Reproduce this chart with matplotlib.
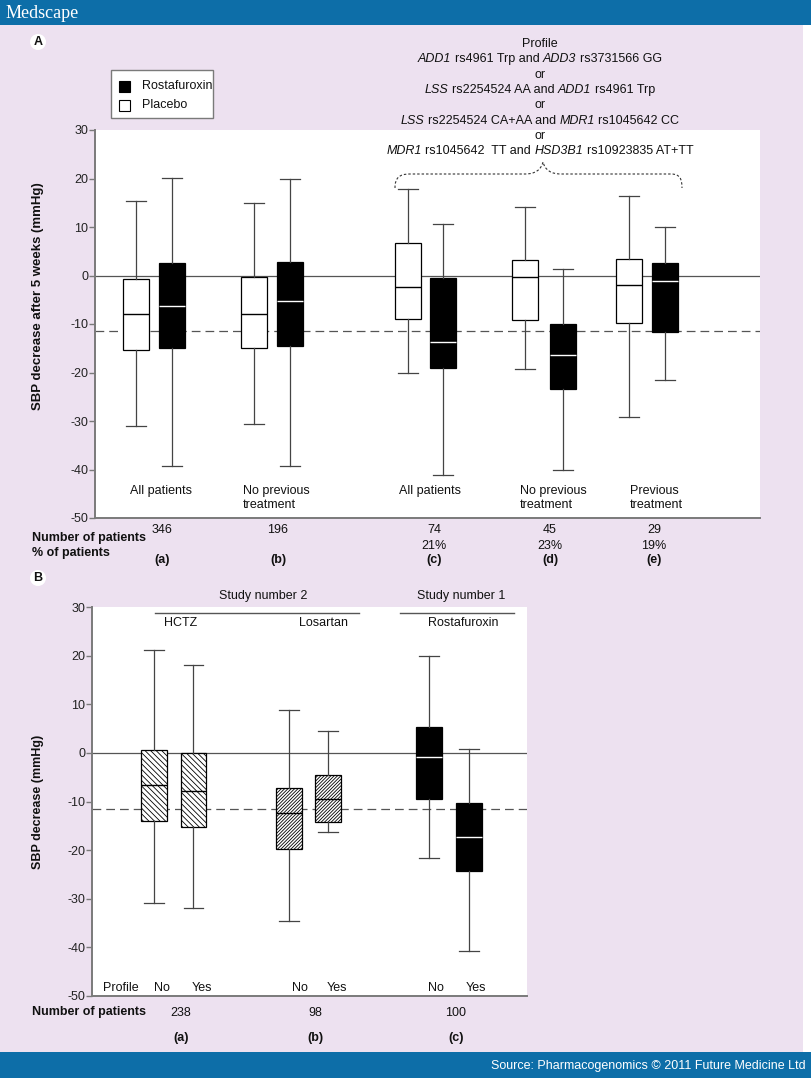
import matplotlib
matplotlib.use("Agg")
import matplotlib.pyplot as plt
from matplotlib import font_manager
from matplotlib.patches import Rectangle, Circle, PathPatch
from matplotlib.path import Path

names = {f.name for f in font_manager.fontManager.ttflist}
BASE = 'Liberation Sans Narrow' if 'Liberation Sans Narrow' in names else 'Liberation Sans'
plt.rcParams['font.family'] = [BASE, 'DejaVu Sans']
plt.rcParams['axes.unicode_minus'] = False
plt.rcParams['hatch.linewidth'] = 0.6

# ---------------- data: panel A ----------------
groups_A = ['(a)', '(b)', '(c)', '(d)', '(e)']
n_patients_A = ['346', '196', '74', '45', '29']
pct_patients_A = ['', '', '21%', '23%', '19%']
group_text_A = ['All patients', 'No previous\ntreatment', 'All patients',
                'No previous\ntreatment', 'Previous\ntreatment']

placebo_whislo = [-31.0, -30.6, -20.0, -19.2, -29.1]
placebo_q1 = [-15.4, -14.9, -8.9, -9.1, -9.7]
placebo_med = [-8.0, -8.0, -2.3, -0.4, -2.0]
placebo_q3 = [-0.7, -0.3, 6.8, 3.1, 3.5]
placebo_whishi = [15.3, 14.9, 17.8, 14.2, 16.4]

rosta_whislo = [-39.2, -39.2, -41.1, -40.1, -21.6]
rosta_q1 = [-14.9, -14.5, -19.0, -23.5, -11.7]
rosta_med = [-6.2, -5.3, -13.8, -16.3, -1.1]
rosta_q3 = [2.6, 2.8, -0.6, -10.1, 2.6]
rosta_whishi = [20.1, 20.0, 10.6, 1.3, 10.1]

ref_line = -11.5

# ---------------- data: panel B ----------------
groups_B = ['(a)', '(b)', '(c)']
n_patients_B = ['238', '98', '100']
treatments_B = ['HCTZ', 'Losartan', 'Rostafuroxin']
profile_B = ['No', 'Yes', 'No', 'Yes', 'No', 'Yes']
b_whislo = [-30.9, -31.8, -34.5, -16.3, -21.6, -40.7]
b_q1 = [-14.1, -15.3, -19.8, -14.3, -9.4, -24.3]
b_med = [-6.6, -7.8, -12.3, -9.4, -0.8, -17.3]
b_q3 = [0.5, 0.0, -7.3, -4.6, 5.3, -10.4]
b_whishi = [21.1, 18.0, 8.8, 4.6, 19.9, 0.8]

# profile text (text, italic)
profile_lines = [
    [('Profile', False)],
    [('ADD1', True), ('rs4961 Trp and', False), ('ADD3', True), ('rs3731566 GG', False)],
    [('or', False)],
    [('LSS', True), ('rs2254524 AA and', False), ('ADD1', True), ('rs4961 Trp', False)],
    [('or', False)],
    [('LSS', True), ('rs2254524 CA+AA and', False), ('MDR1', True), ('rs1045642 CC', False)],
    [('or', False)],
    [('MDR1', True), ('rs1045642  TT and', False), ('HSD3B1', True),
     ('rs10923835 AT+TT', False)],
]

# ---------------- layout (pixels) ----------------
W, H = 812, 1078
posA_placebo = [136, 254, 408, 525, 629]
posA_rosta = [172, 290, 443, 563, 665]
posB = [154, 193.5, 289, 328.5, 429.5, 469.5]
B_face = ['white', 'white', 'white', 'white', 'black', 'black']
B_hatch = ['\\' * 6, '\\' * 6, '/' * 10, '/' * 10, None, None]
B_med = ['black', 'black', 'black', 'black', 'white', 'white']

LAV = '#ede1f0'
BLUE = '#0d6ea8'
GRAY = '#7a7a7a'
BOLD = ['Liberation Sans', 'DejaVu Sans']

fig = plt.figure(figsize=(W / 100, H / 100), dpi=100, facecolor=LAV)

# background
bg = fig.add_axes([0, 0, 1, 1])
bg.set_xlim(0, W); bg.set_ylim(H, 0); bg.axis('off')
bg.add_patch(Rectangle((0, 0), W, 25, color=BLUE, lw=0))
bg.add_patch(Rectangle((0, 1052), W, 26, color=BLUE, lw=0))
bg.add_patch(Rectangle((803, 25), 9, 1027, color='white', lw=0))


def fig_axes(x0, x1, y0, y1):
    return fig.add_axes([x0 / W, 1 - y1 / H, (x1 - x0) / W, (y1 - y0) / H])


def style_axes(ax, xlim):
    ax.set_facecolor('white')
    ax.set_xlim(*xlim)
    ax.set_ylim(-50, 30)
    ax.set_yticks(range(-50, 31, 10))
    ax.set_xticks([])
    for s in ['top', 'right']:
        ax.spines[s].set_visible(False)
    for s in ['left', 'bottom']:
        ax.spines[s].set_color(GRAY)
        ax.spines[s].set_linewidth(1.4)
    ax.tick_params(axis='y', labelsize=9, length=4, width=1, color=GRAY, pad=1,
                   labelcolor='#222')
    ax.axhline(0, color='#555', lw=0.9, zorder=1)
    ax.axhline(ref_line, color='#555', lw=0.9, ls=(0, (7, 4)), zorder=1)


def box(ax, pos, lo, q1, med, q3, hi, face, medc, hatch=None, width=26):
    stats = [dict(whislo=lo, q1=q1, med=med, q3=q3, whishi=hi, fliers=[])]
    ax.bxp(stats, positions=[pos], widths=width, capwidths=20, patch_artist=True,
           showfliers=False, manage_ticks=False,
           boxprops=dict(facecolor=face, edgecolor='black', linewidth=0.9, hatch=hatch),
           medianprops=dict(color=medc, linewidth=1.0),
           whiskerprops=dict(color='#444', linewidth=0.9),
           capprops=dict(color='#444', linewidth=0.9), zorder=3)


# ---------------- panel A ----------------
axA = fig_axes(95, 760, 130, 518)
style_axes(axA, (95, 760))
for i in range(len(groups_A)):
    box(axA, posA_placebo[i], placebo_whislo[i], placebo_q1[i], placebo_med[i],
        placebo_q3[i], placebo_whishi[i], 'white', 'black')
    box(axA, posA_rosta[i], rosta_whislo[i], rosta_q1[i], rosta_med[i],
        rosta_q3[i], rosta_whishi[i], 'black', 'white')

# ---------------- panel B ----------------
axB = fig_axes(92.5, 527, 607, 996)
style_axes(axB, (92.5, 527))
for i in range(len(profile_B)):
    box(axB, posB[i], b_whislo[i], b_q1[i], b_med[i], b_q3[i], b_whishi[i],
        B_face[i], B_med[i], B_hatch[i], width=26)

# ---------------- overlay text ----------------
ov = fig.add_axes([0, 0, 1, 1])
ov.set_xlim(0, W); ov.set_ylim(H, 0); ov.axis('off')
ov.patch.set_alpha(0)
renderer = fig.canvas.get_renderer()


def t(x, y, s, size=9, ha='center', va='center', **kw):
    return ov.text(x, y, s, fontsize=size, ha=ha, va=va,
                   color=kw.pop('color', '#111'), **kw)


def width_of(s, italic=False, size=9):
    tt = ov.text(0, 0, s, fontsize=size, style='italic' if italic else 'normal')
    w = tt.get_window_extent(renderer).width
    tt.remove()
    return w


space_w = width_of('x x') - width_of('xx')


def rich_line(xc, y, pieces, size=9):
    items = []
    for s, it in pieces:
        items.append((t(0, y, s, size=size, ha='left', style='italic' if it else 'normal'),
                      width_of(s, it, size)))
    total = sum(w for _, w in items) + space_w * (len(items) - 1)
    x = xc - total / 2
    for tt, w in items:
        tt.set_x(x)
        x += w + space_w


# header / footer
ov.text(6, 13, 'Medscape', fontsize=13, family=['Liberation Serif', 'DejaVu Serif'],
        color='white', ha='left', va='center')
t(806, 1066, 'Source: Pharmacogenomics \u00a9 2011 Future Medicine Ltd', size=9,
  ha='right', color='white')

# panel letters
for (lx, ly, lt) in [(38, 42, 'A'), (38, 578, 'B')]:
    ov.add_patch(Circle((lx, ly), 8, color='white', lw=0))
    t(lx, ly, lt, size=9, weight='bold', family=BOLD)

# legend
ov.add_patch(Rectangle((111, 70), 102, 48, facecolor='white', edgecolor=GRAY, lw=1))
ov.add_patch(Rectangle((119, 81), 11, 11, facecolor='black', edgecolor='black', lw=0.8))
ov.add_patch(Rectangle((119, 100), 11, 11, facecolor='white', edgecolor='black', lw=0.8))
t(142, 86, 'Rostafuroxin', ha='left')
t(142, 105, 'Placebo', ha='left')

# profile description
for k, pieces in enumerate(profile_lines):
    rich_line(540, 44 + k * 15.3, pieces)

# dashed brace
verts = [(395, 188), (395, 178), (399, 174), (410, 174), (525, 174),
         (535, 174), (541, 170), (543, 162), (545, 170), (551, 174), (561, 174),
         (671, 174), (680, 174), (682, 179), (682, 188)]
codes = [Path.MOVETO, Path.CURVE4, Path.CURVE4, Path.CURVE4, Path.LINETO,
         Path.CURVE4, Path.CURVE4, Path.CURVE4, Path.CURVE4, Path.CURVE4, Path.CURVE4,
         Path.LINETO, Path.CURVE4, Path.CURVE4, Path.CURVE4]
ov.add_patch(PathPatch(Path(verts, codes), fill=False, edgecolor='#333', lw=0.8,
                       ls=(0, (2.2, 1.8))))

# y labels
t(38, 296, 'SBP decrease after 5 weeks (mmHg)', size=9.5, rotation=90, weight='bold',
  family=BOLD)
t(38, 802, 'SBP decrease (mmHg)', rotation=90, weight='bold', family=BOLD)

# panel A group texts inside axes
grpA_x = [161, 243, 430, 520, 630]
grpA_ha = ['center', 'left', 'center', 'left', 'left']
for x, s, ha in zip(grpA_x, group_text_A, grpA_ha):
    ov.text(x, 485, s, fontsize=9, ha=ha, va='top', linespacing=1.25, color='#111')

# panel A counts
cntA_x = [162, 278, 434, 550, 654]
t(32, 538, 'Number of patients', ha='left', weight='bold', family=BOLD)
t(32, 553, '% of patients', ha='left', weight='bold', family=BOLD)
for x, n, p, g in zip(cntA_x, n_patients_A, pct_patients_A, groups_A):
    t(x, 530, n)
    if p:
        t(x, 546, p)
    t(x, 560, g, weight='bold', family=BOLD)

# panel B headers
t(263, 596, 'Study number 2')
t(461, 596, 'Study number 1')
ov.plot([155, 359], [613, 613], color='#555', lw=1)
ov.plot([400, 514], [613, 613], color='#555', lw=1)
for x, s in zip([181, 324, 463], treatments_B):
    t(x, 623, s)

# panel B bottom labels
t(121, 988, 'Profile')
profB_x = [162, 202, 299.5, 337, 436, 476]
for x, s in zip(profB_x, profile_B):
    t(x, 988, s)
t(32, 1012, 'Number of patients', ha='left', weight='bold', family=BOLD)
for x, n, g in zip([181, 315, 456], n_patients_B, groups_B):
    t(x, 1013, n)
    t(x, 1038, g, weight='bold', family=BOLD)

fig.savefig('out.png', dpi=100, facecolor=LAV)
